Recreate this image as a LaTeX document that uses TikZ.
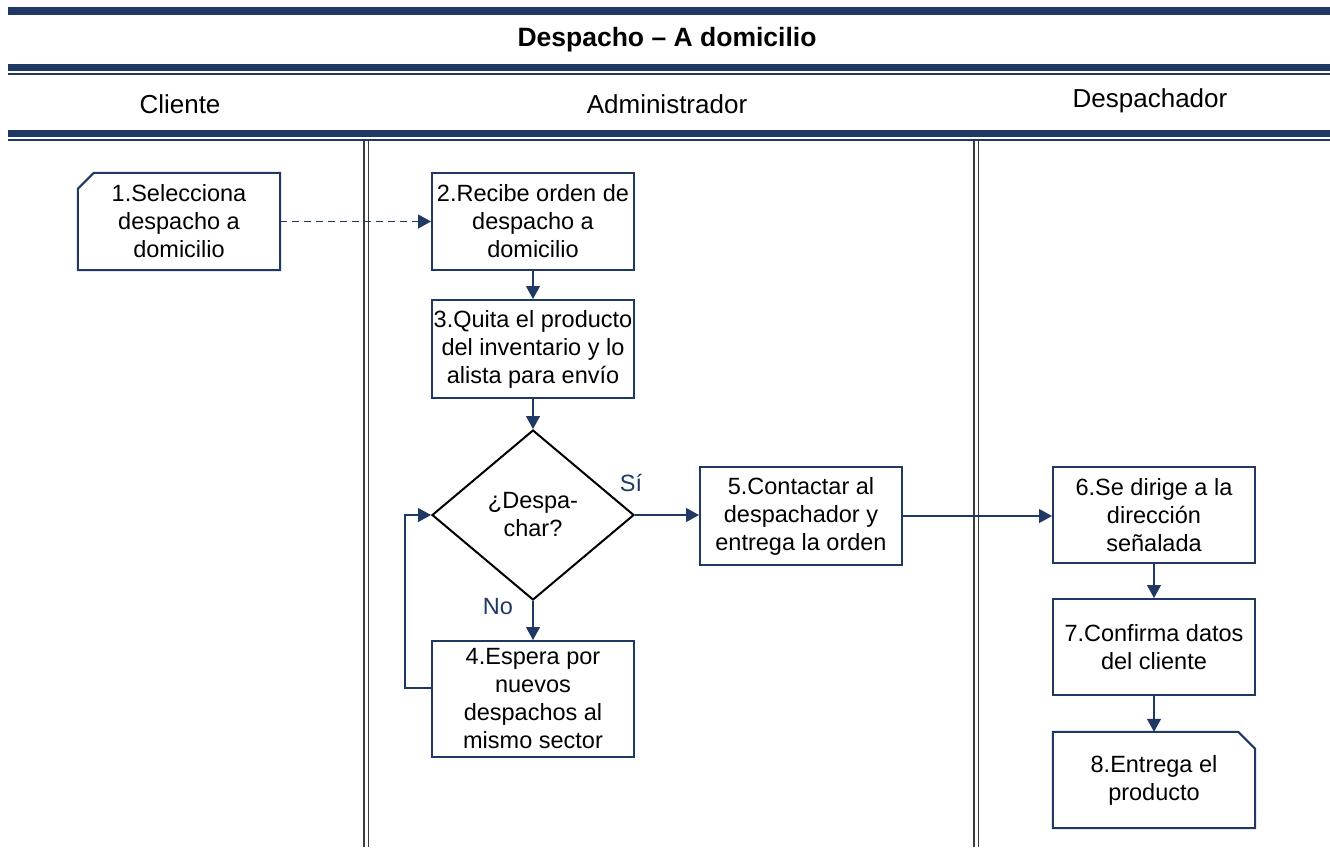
\documentclass[tikz,border=0pt]{standalone}
\usepackage{fontspec}
\setmainfont{Liberation Sans}
\usetikzlibrary{shapes.geometric,arrows.meta}
\definecolor{navy}{HTML}{1F3864}
\definecolor{lanegray}{HTML}{3C3C3C}
\begin{document}
\begin{tikzpicture}[x=1pt,y=-1pt,
  txt/.style={font=\fontsize{23.5}{28}\selectfont, align=center, inner sep=0pt},
  proc/.style={txt, draw=navy, line width=2pt, minimum width=202pt},
  plain/.style={txt, minimum width=202pt},
  conn/.style={draw=navy, line width=1.2pt, -{Triangle[length=13pt,width=14pt]}},
  lbl/.style={font=\fontsize{23.5}{28}\selectfont, text=navy, inner sep=0pt},
  hdr/.style={font=\fontsize{26}{30}\selectfont, inner sep=0pt},
  bar/.style={fill=navy, draw=none},
  lane/.style={draw=lanegray, line width=1.3pt}
]
\useasboundingbox (0,0) rectangle (1330,847);
\fill[white] (0,0) rectangle (1330,847);

% header bars
\path[bar] (8,7) rectangle (1330,15);
\path[bar] (8,64) rectangle (1330,70.5);
\path[bar] (8,72.5) rectangle (1330,75);
\path[bar] (8,130) rectangle (1330,136.5);
\path[bar] (8,138.5) rectangle (1330,141);

\node[hdr, font=\fontsize{26.5}{30}\selectfont\bfseries] (title) at (667,40) {Despacho – A domicilio};
\node[hdr] (hcli) at (180,104) {Cliente};
\node[hdr] (hadm) at (667,104) {Administrador};
\node[hdr] (hdes) at (1150,101) {Despachador};

% lane dividers
\draw[lane] (364,141) -- (364,847);
\draw[lane] (368.5,141) -- (368.5,847);
\draw[lane] (974,141) -- (974,847);
\draw[lane] (978.5,141) -- (978.5,847);

% nodes
\node[plain, minimum height=97pt] (n1) at (179,221.5) {1.Selecciona\\despacho a\\domicilio};
\draw[navy, line width=2pt] ([xshift=16pt]n1.north west) -- (n1.north east) -- (n1.south east) -- (n1.south west) -- ([yshift=-16pt]n1.north west) -- cycle;

\node[proc, minimum height=97pt] (n2) at (533,221.5) {2.Recibe orden de\\despacho a\\domicilio};
\node[proc, minimum height=98pt] (n3) at (533,349) {3.Quita el producto\\del inventario y lo\\alista para envío};
\node[txt, draw=black, line width=2pt, shape=diamond, minimum width=202pt, minimum height=170pt, aspect=1.19] (d) at (533,515) {¿Despa-\\char?};
\node[proc, minimum height=116pt] (n4) at (533,699) {4.Espera por\\nuevos\\despachos al\\mismo sector};
\node[proc, minimum height=98pt] (n5) at (801,516) {5.Contactar al\\despachador y\\entrega la orden};
\node[proc, minimum height=96pt] (n6) at (1154,515) {6.Se dirige a la\\dirección\\señalada};
\node[proc, minimum height=96pt] (n7) at (1154,647) {7.Confirma datos\\del cliente};
\node[plain, minimum height=96pt] (n8) at (1154,780) {8.Entrega el\\producto};
\draw[navy, line width=2pt] (n8.north west) -- ([xshift=-17pt]n8.north east) -- ([yshift=-17pt]n8.north east) -- (n8.south east) -- (n8.south west) -- cycle;

\node[lbl] (si) at (631,483) {Sí};
\node[lbl] (no) at (498,607) {No};

% connectors
\draw[conn, dash pattern=on 7pt off 5pt] (n1.east) -- (n2.west);
\draw[conn] (n2.south) -- (n3.north);
\draw[conn] (n3.south) -- (d.north);
\draw[conn] (d.east) -- (d.east -| n5.west);
\draw[conn] (n5.east) -- (n5.east -| n6.west);
\draw[conn] (d.south) -- (n4.north);
\draw[conn] ([yshift=11pt]n4.west) -- ++(-26,0) |- (d.west);
\draw[conn] (n6.south) -- (n7.north);
\draw[conn] (n7.south) -- (n8.north);
\end{tikzpicture}
\end{document}
